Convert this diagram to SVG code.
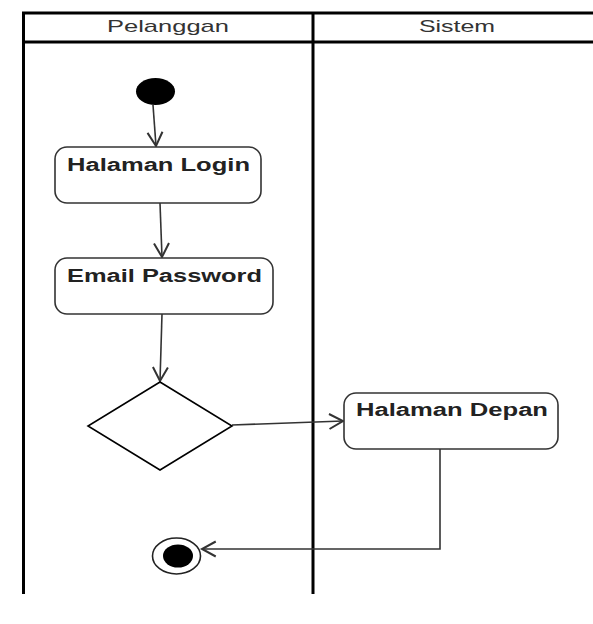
<svg xmlns="http://www.w3.org/2000/svg" width="593" height="624" viewBox="0 0 593 624">
<style>
.lane{stroke:#000;stroke-width:3;fill:none}
.hdr{font-family:"Liberation Sans",Arial,sans-serif;font-size:17px;fill:#333;text-anchor:start}
.box{fill:#fff;stroke:#333;stroke-width:1.6}
.lbl{font-family:"Liberation Sans",Arial,sans-serif;font-size:18px;font-weight:bold;fill:#222}
.conn{stroke:#333;stroke-width:1.6;fill:none}
</style>
<defs>
<marker id="arr" markerUnits="userSpaceOnUse" markerWidth="20" markerHeight="20" viewBox="-12 -8 14 16" refX="0" refY="0" orient="auto">
<path d="M-11,-6 L0,0 L-11,6" fill="none" stroke="#333" stroke-width="1.6"/>
</marker>
</defs>
<rect width="593" height="624" fill="#fff"/>
<g id="swimlanes">
<line class="lane" x1="22" y1="13" x2="593" y2="13"/>
<line class="lane" x1="22" y1="42" x2="593" y2="42"/>
<line class="lane" x1="23.5" y1="12" x2="23.5" y2="594"/>
<line class="lane" x1="313" y1="12" x2="313" y2="594"/>
<text class="hdr" x="107" y="32" textLength="122" lengthAdjust="spacingAndGlyphs">Pelanggan</text>
<text class="hdr" x="419" y="32" textLength="76" lengthAdjust="spacingAndGlyphs">Sistem</text>
</g>
<g id="connectors">
<line class="conn" x1="153" y1="105" x2="156" y2="146" marker-end="url(#arr)"/>
<line class="conn" x1="160" y1="203" x2="162" y2="257" marker-end="url(#arr)"/>
<line class="conn" x1="162" y1="314" x2="160" y2="381" marker-end="url(#arr)"/>
<line class="conn" x1="232" y1="425" x2="343" y2="421" marker-end="url(#arr)"/>
<polyline class="conn" points="440,449 440,549 202,549" marker-end="url(#arr)" stroke="#666" stroke-width="2.2"/>
</g>
<g id="start">
<ellipse cx="155.5" cy="91.5" rx="19.5" ry="13.5" fill="#000"/>
</g>
<g id="halaman-login">
<rect class="box" x="55" y="147" width="206" height="56" rx="12"/>
<text class="lbl" x="67" y="171" textLength="183" lengthAdjust="spacingAndGlyphs">Halaman Login</text>
</g>
<g id="email-password">
<rect class="box" x="55" y="258" width="218" height="56" rx="12"/>
<text class="lbl" x="67" y="282" textLength="195" lengthAdjust="spacingAndGlyphs">Email Password</text>
</g>
<g id="decision">
<polygon points="160,382 232,426 160,470 88,426" fill="#fff" stroke="#000" stroke-width="1.6"/>
</g>
<g id="halaman-depan">
<rect class="box" x="344" y="393" width="214" height="56" rx="12"/>
<text class="lbl" x="356" y="416" textLength="192" lengthAdjust="spacingAndGlyphs">Halaman Depan</text>
</g>
<g id="end">
<ellipse cx="176.5" cy="556" rx="24" ry="18" fill="#fff" stroke="#222" stroke-width="1.6"/>
<ellipse cx="178" cy="556" rx="15" ry="11.5" fill="#000"/>
</g>
</svg>
